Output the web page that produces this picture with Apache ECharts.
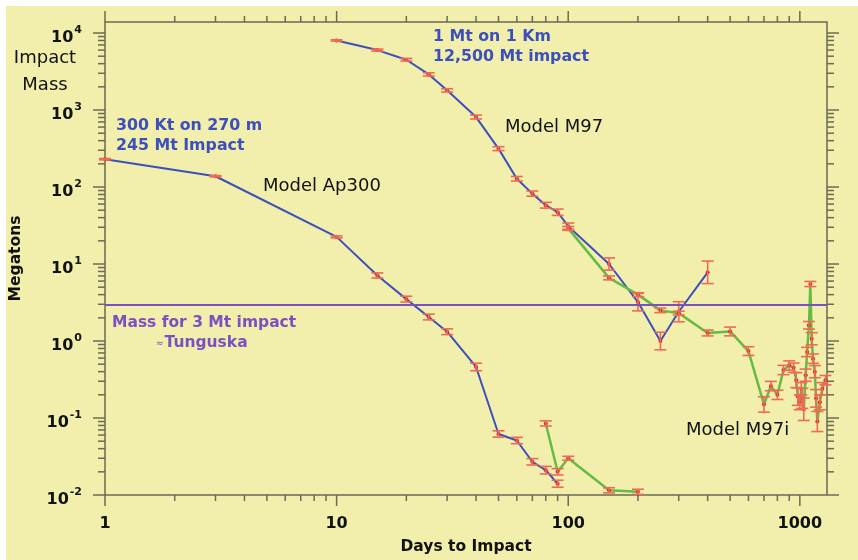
<!DOCTYPE html>
<html>
<head>
<meta charset="utf-8">
<script src="https://cdn.jsdelivr.net/npm/echarts@6/dist/echarts.min.js"></script>
<style>
  body { margin: 0; background: #fff; }
  #bg { position: absolute; left: 6px; top: 6px; width: 852px; height: 554px; background: #f1efab; }
  #main { position: absolute; left: 0; top: 0; width: 858px; height: 560px; }
</style>
</head>
<body>
<div id="bg"></div>
<div id="main"></div>
<script>
// Model Ap300 (300 Kt on 270 m)
var apDays = [1, 3, 10, 15, 20, 25, 30, 40, 50, 60, 70, 80, 90];
var apMass = [230, 138, 22.5, 7.1, 3.5, 2.05, 1.32, 0.46, 0.062, 0.051, 0.027, 0.021, 0.014];
var apErr = [0.02, 0.02, 0.03, 0.08, 0.09, 0.09, 0.09, 0.12, 0.1, 0.1, 0.1, 0.12, 0.11];

// Model M97 (1 Mt on 1 Km)
var m97Days = [10, 15, 20, 25, 30, 40, 50, 60, 70, 80, 90, 100, 150, 200, 250, 300, 400];
var m97Mass = [8000, 6000, 4500, 2900, 1800, 810, 315, 128, 82, 58, 47, 31, 10, 3.2, 1.0, 2.4, 7.8];
var m97Err = [0.02, 0.03, 0.04, 0.05, 0.05, 0.06, 0.06, 0.07, 0.08, 0.09, 0.1, 0.1, 0.2, 0.3, 0.3, 0.35, 0.4];

// Model M97i, low branch
var m97iLowDays = [80, 90, 100, 150, 200];
var m97iLowMass = [0.085, 0.020, 0.030, 0.0115, 0.011];
var m97iLowErr = [0.08, 0.1, 0.06, 0.08, 0.08];

// Model M97i, main branch
var m97iDays = [100, 150, 200, 250, 300, 400, 500, 600, 700, 750, 800, 850, 900, 940, 965, 980,
  1000, 1015, 1025, 1040, 1060, 1075, 1095, 1110, 1125, 1140, 1160, 1175, 1190, 1220, 1250, 1290];
var m97iMass = [29, 6.6, 4.0, 2.5, 2.3, 1.27, 1.33, 0.74, 0.15, 0.26, 0.20, 0.42, 0.48, 0.45, 0.31, 0.19,
  0.16, 0.24, 0.18, 0.13, 0.36, 0.72, 1.6, 5.5, 1.07, 0.59, 0.40, 0.18, 0.09, 0.16, 0.24, 0.31];
var m97iErr = [0.06, 0.06, 0.06, 0.07, 0.06, 0.09, 0.14, 0.14, 0.26, 0.15, 0.15, 0.15, 0.15, 0.15, 0.25, 0.3,
  0.25, 0.2, 0.35, 0.4, 0.2, 0.15, 0.12, 0.08, 0.2, 0.15, 0.2, 0.3, 0.35, 0.25, 0.2, 0.15];

var tunguskaMass = 3;

// tick labels
var xLabelValues = [1, 10, 100, 1000];
var yLabelExps = [-2, -1, 0, 1, 2, 3, 4];

var xMin = 1, xMax = 1310, yMin = 0.01, yMax = 13900;
var axisColor = '#6c6a55';
var blue = '#3c4fbd';
var green = '#66bb44';
var purple = '#7b50c4';
var errColor = '#ef6a55';
var dotColor = '#e3262a';

function isPow(v) {
  var l = Math.log10(v);
  return Math.abs(l - Math.round(l)) < 1e-6;
}

function pairs(days, mass) {
  return days.map(function (d, i) { return [d, mass[i]]; });
}

function errData(days, mass, err) {
  return days.map(function (d, i) {
    return [d, mass[i] / (1 + err[i]), mass[i] * (1 + err[i])];
  });
}

// minor + major tick values for the frame
function tickValues(lo, hi) {
  var out = [];
  for (var k = -3; k <= 5; k++) {
    for (var m = 1; m <= 9; m++) {
      var v = +(m * Math.pow(10, k)).toPrecision(6);
      if (v >= lo * 0.9999 && v <= hi) out.push(v);
    }
  }
  return out;
}

var xTicks = tickValues(xMin, xMax);
var yTicks = tickValues(yMin, yMax);

function lineSeries(name, data, color, width) {
  return {
    name: name,
    type: 'line',
    data: data,
    symbol: 'circle',
    symbolSize: 4,
    showSymbol: true,
    itemStyle: { color: dotColor },
    lineStyle: { color: color, width: width },
    z: 2,
    silent: true
  };
}

var chart = echarts.init(document.getElementById('main'), null, { renderer: 'canvas' });

var option = {
  animation: false,
  backgroundColor: 'transparent',
  grid: {
    left: 101, top: 22, width: 726, height: 475,
    show: true, borderColor: axisColor, borderWidth: 1.5
  },
  xAxis: {
    type: 'log',
    logBase: 10,
    min: xMin,
    max: xMax,
    interval: 1,
    name: 'Days to Impact',
    nameLocation: 'middle',
    nameGap: 44,
    nameTextStyle: { fontFamily: 'DejaVu Sans', fontWeight: 'bold', fontSize: 15.5, color: '#111' },
    axisLine: { show: false },
    axisTick: { show: false },
    splitLine: { show: false },
    axisLabel: {
      margin: 21,
      showMaxLabel: false,
      fontFamily: 'DejaVu Sans', fontWeight: 'bold', fontSize: 16, color: '#111',
      formatter: function (v) {
        if (!isPow(v) || xLabelValues.indexOf(Math.round(v)) < 0) return '';
        return String(Math.round(v));
      }
    }
  },
  yAxis: {
    type: 'log',
    logBase: 10,
    min: yMin,
    max: yMax,
    interval: 1,
    name: 'Megatons',
    nameLocation: 'middle',
    nameGap: 81,
    nameRotate: 90,
    nameTextStyle: { fontFamily: 'DejaVu Sans', fontWeight: 'bold', fontSize: 15.5, color: '#111' },
    axisLine: { show: false },
    axisTick: { show: false },
    splitLine: { show: false },
    axisLabel: {
      margin: 23,
      showMaxLabel: false,
      color: '#111',
      formatter: function (v) {
        var e = Math.round(Math.log10(v));
        if (!isPow(v) || yLabelExps.indexOf(e) < 0) return '';
        return '{b|10}{s|' + e + '}';
      },
      rich: {
        b: { fontFamily: 'DejaVu Sans', fontWeight: 'bold', fontSize: 16, color: '#111', padding: [10, 0, 0, 0] },
        s: { fontFamily: 'DejaVu Sans', fontWeight: 'bold', fontSize: 11, color: '#111', padding: [0, 0, 6, 1] }
      }
    }
  },
  graphic: [
    { type: 'text', x: 45, y: 58, style: { text: 'Impact', font: '18px "DejaVu Sans"', fill: '#111', align: 'center', verticalAlign: 'middle' } },
    { type: 'text', x: 45, y: 85, style: { text: 'Mass', font: '18px "DejaVu Sans"', fill: '#111', align: 'center', verticalAlign: 'middle' } },
    { type: 'text', x: 116, y: 126, style: { text: '300 Kt on 270 m', font: 'bold 15.8px "DejaVu Sans"', fill: blue, align: 'left', verticalAlign: 'middle' } },
    { type: 'text', x: 116, y: 146, style: { text: '245 Mt Impact', font: 'bold 15.8px "DejaVu Sans"', fill: blue, align: 'left', verticalAlign: 'middle' } },
    { type: 'text', x: 433, y: 37, style: { text: '1 Mt on 1 Km', font: 'bold 15.8px "DejaVu Sans"', fill: blue, align: 'left', verticalAlign: 'middle' } },
    { type: 'text', x: 433, y: 57, style: { text: '12,500 Mt impact', font: 'bold 15.8px "DejaVu Sans"', fill: blue, align: 'left', verticalAlign: 'middle' } },
    { type: 'text', x: 112, y: 323, style: { text: 'Mass for 3 Mt impact', font: 'bold 15.5px "DejaVu Sans"', fill: purple, align: 'left', verticalAlign: 'middle' } },
    {
      type: 'text', x: 156, y: 343,
      style: {
        text: '{a|≈}{t|Tunguska}', align: 'left', verticalAlign: 'middle',
        rich: {
          a: { fontFamily: 'DejaVu Sans', fontSize: 9, fill: purple, padding: [2, 1, 0, 0] },
          t: { fontFamily: 'DejaVu Sans', fontWeight: 'bold', fontSize: 15.5, fill: purple }
        }
      }
    },
    { type: 'text', x: 263, y: 186, style: { text: 'Model Ap300', font: '18px "DejaVu Sans"', fill: '#111', align: 'left', verticalAlign: 'middle' } },
    { type: 'text', x: 505, y: 127, style: { text: 'Model M97', font: '18px "DejaVu Sans"', fill: '#111', align: 'left', verticalAlign: 'middle' } },
    { type: 'text', x: 686, y: 430, style: { text: 'Model M97i', font: '18px "DejaVu Sans"', fill: '#111', align: 'left', verticalAlign: 'middle' } }
  ],
  series: [
    Object.assign(lineSeries('Model Ap300', pairs(apDays, apMass), blue, 2), {
      markLine: {
        silent: true,
        symbol: ['none', 'none'],
        label: { show: false },
        lineStyle: { color: purple, width: 2, type: 'solid' },
        data: [{ yAxis: tunguskaMass }]
      }
    }),
    lineSeries('Model M97', pairs(m97Days, m97Mass), blue, 2),
    lineSeries('Model M97i low', pairs(m97iLowDays, m97iLowMass), green, 2.5),
    lineSeries('Model M97i', pairs(m97iDays, m97iMass), green, 2.5),
    {
      name: 'errors',
      type: 'custom',
      silent: true,
      z: 3,
      encode: { x: 0, y: [1, 2] },
      data: [].concat(
        errData(apDays, apMass, apErr),
        errData(m97Days, m97Mass, m97Err),
        errData(m97iLowDays, m97iLowMass, m97iLowErr),
        errData(m97iDays, m97iMass, m97iErr)
      ),
      renderItem: function (params, api) {
        var x = api.value(0);
        var lo = api.coord([x, api.value(1)]);
        var hi = api.coord([x, api.value(2)]);
        var w = 6;
        var st = { stroke: errColor, lineWidth: 1.6 };
        return {
          type: 'group',
          children: [
            { type: 'line', shape: { x1: lo[0], y1: lo[1], x2: hi[0], y2: hi[1] }, style: st },
            { type: 'line', shape: { x1: lo[0] - w, y1: lo[1], x2: lo[0] + w, y2: lo[1] }, style: st },
            { type: 'line', shape: { x1: hi[0] - w, y1: hi[1], x2: hi[0] + w, y2: hi[1] }, style: st }
          ]
        };
      }
    },
    {
      name: 'xticks',
      type: 'custom',
      silent: true,
      clip: false,
      z: 4,
      data: xTicks.map(function (v) { return [v, yMin]; }),
      renderItem: function (params, api) {
        var v = api.value(0);
        var len = isPow(v) ? 11 : 6;
        var b = api.coord([v, yMin]);
        var t = api.coord([v, yMax]);
        var st = { stroke: axisColor, lineWidth: 1.5 };
        return {
          type: 'group',
          children: [
            { type: 'line', shape: { x1: b[0], y1: b[1], x2: b[0], y2: b[1] + len }, style: st },
            { type: 'line', shape: { x1: t[0], y1: t[1], x2: t[0], y2: t[1] - len }, style: st }
          ]
        };
      }
    },
    {
      name: 'yticks',
      type: 'custom',
      silent: true,
      clip: false,
      z: 4,
      data: yTicks.map(function (v) { return [xMin, v]; }),
      renderItem: function (params, api) {
        var v = api.value(1);
        var len = isPow(v) ? 12 : 7;
        var l = api.coord([xMin, v]);
        var r = api.coord([xMax, v]);
        var st = { stroke: axisColor, lineWidth: 1.5 };
        return {
          type: 'group',
          children: [
            { type: 'line', shape: { x1: l[0], y1: l[1], x2: l[0] - len, y2: l[1] }, style: st },
            { type: 'line', shape: { x1: r[0], y1: r[1], x2: r[0] + len, y2: r[1] }, style: st }
          ]
        };
      }
    }
  ]
};

chart.setOption(option);
</script>
</body>
</html>
